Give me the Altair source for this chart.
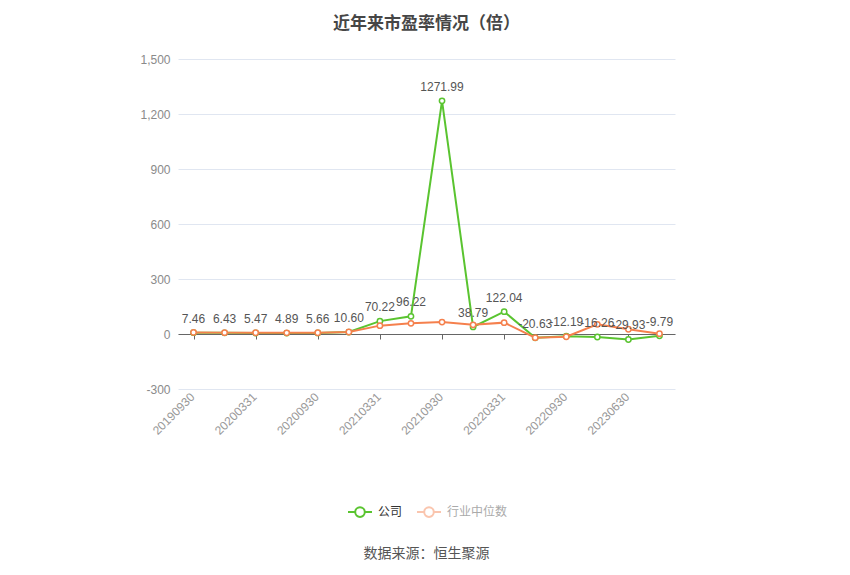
import altair as alt
import pandas as pd

dates = ["20190930", "20191231", "20200331", "20200630", "20200930", "20201231",
         "20210331", "20210630", "20210930", "20211231", "20220331", "20220630",
         "20220930", "20221231", "20230630", "20230930"]
company = [7.46, 6.43, 5.47, 4.89, 5.66, 10.60, 70.22, 96.22, 1271.99, 38.79,
           122.04, -20.63, -12.19, -16.26, -29.93, -9.79]
industry = [8.5, 7.5, 6.8, 6.5, 6.8, 11.0, 45.6, 58.0, 65.0, 50.0,
            62.0, -20.0, -15.0, 53.0, 26.0, 1.5]
series_names = ["公司", "行业中位数"]
x_label_values = dates[::2]
y_ticks = [-300, 0, 300, 600, 900, 1200, 1500]

df = pd.DataFrame({
    "date": dates * 2,
    "series": [series_names[0]] * len(dates) + [series_names[1]] * len(dates),
    "value": company + industry,
    "label": [f"{v:.2f}" for v in company] + [""] * len(dates),
})

CJK = "Noto Sans CJK SC"
LAT = "Liberation Sans, Noto Sans CJK SC"

x = alt.X(
    "date:O", sort=dates,
    scale=alt.Scale(type="point", padding=0.5),
    axis=alt.Axis(
        values=x_label_values, labelAngle=315, labelAlign="right", labelBaseline="top",
        labelPadding=52, labelOffset=-5, offset=-55, domainColor="#666666",
        tickColor="#666666", tickSize=5, labelColor="#999999", labelFontSize=12,
        labelFont=LAT, grid=False,
        title="数据来源：恒生聚源", titleFont=CJK, titleFontSize=14, titleFontWeight="normal",
        titleColor="#555555", titleX=248, titleY=219, titleBaseline="middle",
    ),
)
y = alt.Y(
    "value:Q",
    scale=alt.Scale(domain=[-300, 1500], nice=False),
    axis=alt.Axis(
        values=y_ticks, format=",.0f", labelExpr="replace(datum.label, '\u2212', '-')",
        domain=False, ticks=False, gridColor="#E0E6F1", labelColor="#8a8a8a",
        labelPadding=8, title=None, labelFontSize=12, labelFont=LAT,
    ),
)

sym = "M-1,0L-0.4,0M0.4,0L1,0M0.4,0A0.4,0.4 0 1 1 -0.4,0A0.4,0.4 0 1 1 0.4,0"
color = alt.Color(
    "series:N",
    scale=alt.Scale(domain=series_names, range=["#5AC430", "#F5804D"]),
    legend=alt.Legend(
        title=None, orient="none", legendX=169, legendY=440, direction="horizontal",
        symbolType=sym, symbolSize=576, symbolStrokeWidth=2, symbolFillColor="white",
        labelFontSize=12, labelFont=CJK, columnPadding=10, labelOffset=5,
        labelColor=alt.ExprRef("datum.value === '公司' ? '#333333' : '#aaaaaa'"),
        symbolOpacity=alt.ExprRef("datum.value === '公司' ? 1 : 0.45"),
    ),
)

base = alt.Chart(df)
layers = []
for s in series_names:
    sub = base.transform_filter(alt.datum.series == s)
    layers.append(sub.mark_line(strokeWidth=2).encode(x=x, y=y, color=color))
    layers.append(sub.mark_point(shape="circle", size=28, filled=False, fill="white",
                                 strokeWidth=1.5, opacity=1).encode(x=x, y=y, color=color))

text = base.transform_filter(alt.datum.series == series_names[0]).mark_text(
    dy=-14, fontSize=12, color="#555555", font=LAT
).encode(x=x, y=y, text="label:N")
layers.append(text)

chart = alt.layer(*layers).properties(
    width=497, height=330,
    autosize=alt.AutoSizeParams(type="none"),
    padding={"left": 170, "top": 51, "right": 160, "bottom": 178},
    title=alt.TitleParams(
        "近年来市盈率情况（倍）", font=CJK, fontSize=17, fontWeight="bold",
        color="#464646", anchor="middle", frame="group", baseline="middle", offset=12,
    ),
).configure_view(stroke=None)

chart.save("out.html", embed_options={"renderer": "svg", "actions": False})
